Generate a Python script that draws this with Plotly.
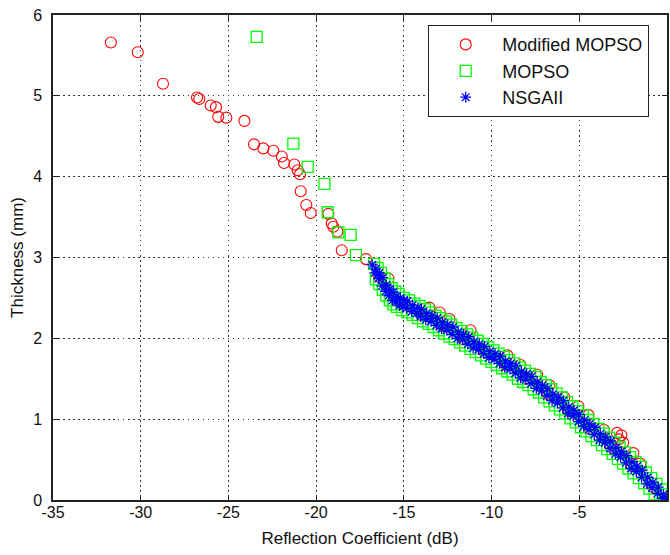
import plotly.graph_objects as go

# ---------------- data ----------------
# Modified MOPSO (red circles)
mmopso_x = [-31.70, -30.17, -28.73, -26.79, -26.66, -26.01, -25.71, -25.58, -25.12, -24.09,
            -23.54, -23.01, -22.44, -21.96, -21.83, -21.24, -21.05, -20.92, -20.88, -20.56,
            -20.31, -19.30, -19.11, -19.02, -18.79, -18.54, -17.16, -15.88, -13.55, -12.95,
            -12.40, -11.20, -9.10, -8.35, -7.40, -6.70, -5.85, -5.05, -4.48, -3.60,
            -2.85, -2.60, -2.75, -2.50, -1.92, -1.53,
            -16.40, -15.20, -14.00, -12.80, -11.60, -10.40, -9.20, -8.00, -6.80, -5.60,
            -4.40, -3.20, -2.00, -0.80, -0.10]
mmopso_y = [5.66, 5.54, 5.15, 4.98, 4.96, 4.88, 4.86, 4.74, 4.73, 4.69,
            4.40, 4.35, 4.32, 4.25, 4.17, 4.15, 4.08, 4.03, 3.82, 3.65,
            3.55, 3.54, 3.42, 3.38, 3.32, 3.09, 2.98, 2.74, 2.38, 2.32,
            2.24, 2.10, 1.79, 1.67, 1.55, 1.42, 1.27, 1.16, 1.05, 0.87,
            0.83, 0.80, 0.75, 0.71, 0.58, 0.45,
            2.76, 2.44, 2.29, 2.15, 1.99, 1.83, 1.67, 1.50, 1.31, 1.10,
            0.88, 0.66, 0.42, 0.16, 0.01]

# MOPSO (green squares)
mopso_x = [-23.39, -21.30, -20.48, -19.53, -19.34, -18.73, -18.03, -17.73,
           -16.7, -16.5, -16.3, -16.1, -15.9, -15.7, -15.5, -15.3, -15.0, -14.7,
           -14.4, -14.1, -13.8, -13.5, -13.2, -12.9, -12.6, -12.3, -12.0, -11.7,
           -11.4, -11.1, -10.8, -10.5, -10.2, -9.9, -9.6, -9.3, -9.0, -8.7,
           -8.4, -8.1, -7.8, -7.5, -7.2, -6.9, -6.6, -6.3, -6.0, -5.7,
           -5.4, -5.1, -4.8, -4.5, -4.2, -3.9, -3.6, -3.3, -3.0, -2.7,
           -2.4, -2.1, -1.8, -1.5, -1.2, -0.9, -0.6, -0.3, -0.05,
           -16.6, -16.4, -16.2, -16.0, -15.8, -15.6, -15.4, -15.1, -14.8, -14.5,
           -14.2, -13.9, -13.6, -13.3, -13.0, -12.7, -12.4, -12.1, -11.8, -11.5,
           -11.2, -10.9, -10.6, -10.3, -10.0, -9.7, -9.4, -9.1, -8.8, -8.5,
           -8.2, -7.9, -7.6, -7.3, -7.0, -6.7, -6.4, -6.1, -5.8, -5.5,
           -5.2, -4.9, -4.6, -4.3, -4.0, -3.7, -3.4, -3.1, -2.8, -2.5,
           -2.2, -1.9, -1.6, -1.3, -1.0, -0.7, -0.4, -0.15]
mopso_y = [5.73, 4.41, 4.12, 3.91, 3.56, 3.31, 3.28, 3.03,
           2.92, 2.87, 2.81, 2.74, 2.67, 2.62, 2.58, 2.55, 2.50, 2.47,
           2.43, 2.40, 2.36, 2.32, 2.28, 2.25, 2.21, 2.17, 2.13, 2.09,
           2.05, 2.01, 1.97, 1.93, 1.89, 1.85, 1.81, 1.77, 1.73, 1.69,
           1.64, 1.60, 1.56, 1.52, 1.46, 1.42, 1.37, 1.32, 1.27, 1.21,
           1.16, 1.10, 1.05, 0.99, 0.94, 0.88, 0.82, 0.77, 0.71, 0.65,
           0.59, 0.53, 0.47, 0.41, 0.34, 0.27, 0.20, 0.13, 0.07,
           2.73, 2.67, 2.60, 2.53, 2.47, 2.42, 2.39, 2.35, 2.32, 2.29,
           2.25, 2.21, 2.18, 2.14, 2.10, 2.06, 2.02, 1.99, 1.95, 1.91,
           1.87, 1.83, 1.79, 1.75, 1.71, 1.67, 1.63, 1.59, 1.55, 1.50,
           1.46, 1.42, 1.37, 1.33, 1.27, 1.22, 1.17, 1.12, 1.07, 1.01,
           0.96, 0.90, 0.85, 0.79, 0.74, 0.68, 0.63, 0.57, 0.51, 0.45,
           0.39, 0.33, 0.27, 0.21, 0.14, 0.07, 0.02, 0.00]

# NSGAII (blue stars)
nsga_x = [-16.8, -16.6, -16.4, -16.2, -16.0, -15.8, -15.6, -15.4, -15.2, -15.0,
          -14.8, -14.5, -14.2, -14.0, -13.7, -13.4, -13.1, -12.8, -12.5, -12.2,
          -11.9, -11.6, -11.3, -11.0, -10.7, -10.4, -10.1, -9.8, -9.5, -9.2,
          -8.9, -8.6, -8.3, -8.0, -7.7, -7.4, -7.1, -6.8, -6.5, -6.2,
          -5.9, -5.6, -5.3, -5.0, -4.7, -4.4, -4.1, -3.8, -3.5, -3.2,
          -2.9, -2.6, -2.3, -2.0, -1.7, -1.4, -1.1, -0.8, -0.5, -0.2, 0.0,
          -16.65, -16.45, -16.25, -16.05, -15.85, -15.65, -15.45, -15.25, -15.05, -14.85,
          -14.55, -14.25, -14.05, -13.75, -13.45, -13.15, -12.85, -12.55, -12.25, -11.95,
          -11.65, -11.35, -11.05, -10.75, -10.45, -10.15, -9.85, -9.55, -9.25, -8.95,
          -8.65, -8.35, -8.05, -7.75, -7.45, -7.15, -6.85, -6.55, -6.25, -5.95,
          -5.65, -5.35, -5.05, -4.75, -4.45, -4.15, -3.85, -3.55, -3.25, -2.95,
          -2.65, -2.35, -2.05, -1.75, -1.45, -1.15, -0.85, -0.55, -0.25]
nsga_y = [2.91, 2.86, 2.81, 2.75, 2.66, 2.61, 2.57, 2.52, 2.50, 2.47,
          2.46, 2.41, 2.38, 2.36, 2.31, 2.28, 2.25, 2.20, 2.17, 2.14,
          2.08, 2.05, 2.02, 1.96, 1.93, 1.90, 1.84, 1.81, 1.78, 1.72,
          1.69, 1.66, 1.59, 1.56, 1.53, 1.46, 1.42, 1.38, 1.31, 1.27,
          1.23, 1.15, 1.11, 1.06, 0.99, 0.94, 0.90, 0.82, 0.78, 0.73,
          0.65, 0.60, 0.55, 0.47, 0.42, 0.37, 0.28, 0.22, 0.16, 0.07, 0.03,
          2.81, 2.74, 2.65, 2.58, 2.53, 2.47, 2.45, 2.41, 2.39, 2.37,
          2.33, 2.31, 2.27, 2.23, 2.21, 2.16, 2.12, 2.10, 2.05, 2.00,
          1.98, 1.93, 1.88, 1.86, 1.81, 1.76, 1.74, 1.69, 1.64, 1.62,
          1.57, 1.51, 1.49, 1.44, 1.38, 1.35, 1.29, 1.23, 1.20, 1.14,
          1.07, 1.04, 0.97, 0.91, 0.87, 0.81, 0.74, 0.71, 0.64, 0.57,
          0.53, 0.46, 0.39, 0.35, 0.28, 0.20, 0.15, 0.08, 0.02]

x_ticks = [-35, -30, -25, -20, -15, -10, -5, 0]
y_ticks = [0, 1, 2, 3, 4, 5, 6]

# ---------------- figure ----------------
FONT = "Liberation Sans, Arial, Helvetica, sans-serif"

fig = go.Figure()
fig.add_trace(go.Scatter(
    x=mmopso_x, y=mmopso_y, mode="markers", name="Modified MOPSO",
    marker=dict(symbol="circle-open", size=11, color="#ff0000", line=dict(width=1.1, color="#ff0000"))))
fig.add_trace(go.Scatter(
    x=mopso_x, y=mopso_y, mode="markers", name="MOPSO",
    marker=dict(symbol="square-open", size=11, color="#00ff00", line=dict(width=1.3, color="#00ff00"))))
fig.add_trace(go.Scatter(
    x=nsga_x, y=nsga_y, mode="markers", name="NSGAII",
    marker=dict(symbol="asterisk-open", size=9, color="#0000ff", line=dict(width=1.3, color="#0000ff"))))

axis_common = dict(
    showline=True, linecolor="#222222", linewidth=1.5, mirror="ticks",
    ticks="inside", ticklen=5, tickcolor="#222222", tickwidth=1,
    showgrid=True, gridcolor="#333333", gridwidth=1, griddash="1.5px,3.5px",
    zeroline=False, tickfont=dict(family=FONT, size=16, color="#111111"),
)

fig.update_xaxes(
    range=[-35, 0], tickvals=x_ticks, ticktext=[str(v) for v in x_ticks],
    ticklabelstandoff=-3,
    title=dict(text="Reflection Coefficient (dB)", font=dict(family=FONT, size=17, color="#111111"), standoff=12),
    **axis_common)
fig.update_yaxes(
    range=[0, 6], tickvals=y_ticks, ticktext=[str(v) for v in y_ticks],
    ticklabelstandoff=6,
    title=dict(text="Thickness (mm)", font=dict(family=FONT, size=17, color="#111111"), standoff=5),
    **axis_common)

fig.update_layout(
    width=670, height=555,
    margin=dict(l=53, r=3, t=15, b=55, autoexpand=False),
    paper_bgcolor="white", plot_bgcolor="white",
    font=dict(family=FONT, size=16, color="#111111"),
    showlegend=True,
    legend=dict(
        x=0.971, y=0.979, xanchor="right", yanchor="top",
        bgcolor="white", bordercolor="#222222", borderwidth=1,
        font=dict(family=FONT, size=18, color="#111111"),
        itemwidth=63, tracegroupgap=0,
    ),
)

fig.write_html(
    "out.html",
    config={"displayModeBar": False},
    post_script="document.body.style.margin='0';document.body.style.padding='0';document.body.style.overflow='hidden';",
)
